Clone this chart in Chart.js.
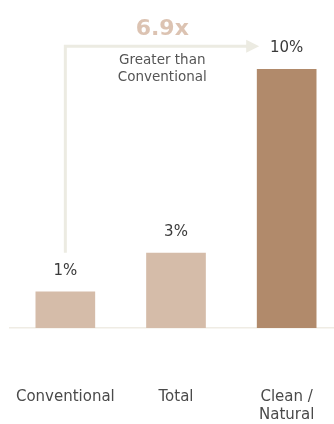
<!DOCTYPE html>
<html>
<head>
<meta charset="utf-8">
<script src="https://cdn.jsdelivr.net/npm/chart.js@4"></script>
<style>
  html, body { margin: 0; padding: 0; background: #fff; overflow: hidden; }
  #wrap { width: 342px; height: 424px; }
</style>
</head>
<body>
<div id="wrap"><canvas id="myChart"></canvas></div>
<script>
var categories = [["Conventional"], ["Total"], ["Clean /", "Natural"]];
var shareValues = [1.4, 2.9, 10];
var valueLabels = ["1%", "3%", "10%"];
var barColors = ["#d5bca9", "#d5bca9", "#b18a6b"];
var multipleText = "6.9x";
var noteLines = ["Greater than", "Conventional"];

var fontName = "'DejaVu Sans', sans-serif";

// value labels, category labels and the 6.9x arrow
var labelPlugin = {
    id: "labelPlugin",
    afterDatasetsDraw: function(chart) {
        var ctx = chart.ctx;
        var meta = chart.getDatasetMeta(0);
        var xScale = chart.scales.x;
        var labelYs = [];

        ctx.save();
        ctx.textAlign = "center";
        ctx.textBaseline = "middle";

        // category names under the axis
        ctx.font = "15px " + fontName;
        ctx.fillStyle = "#4a4a4a";
        categories.forEach(function(lines, i) {
            var x = xScale.getPixelForValue(i);
            lines.forEach(function(line, j) {
                ctx.fillText(line, x, chart.chartArea.bottom + 69 + j * 18);
            });
        });

        ctx.font = "15px " + fontName;
        ctx.fillStyle = "#3a3a3a";
        meta.data.forEach(function(bar, i) {
            var y = bar.y - 21;
            labelYs.push(y);
            ctx.fillText(valueLabels[i], bar.x, y);
        });

        // arrow from first bar label to the last bar
        var first = meta.data[0];
        var last = meta.data[meta.data.length - 1];
        var topY = labelYs[labelYs.length - 1] - 2;
        var startX = first.x;
        var tipX = last.x - last.width / 2 + 2;

        ctx.strokeStyle = "#ecebe2";
        ctx.fillStyle = "#ecebe2";
        ctx.lineWidth = 3;
        ctx.beginPath();
        ctx.moveTo(startX, labelYs[0] - 18);
        ctx.lineTo(startX, topY);
        ctx.lineTo(tipX - 10, topY);
        ctx.stroke();
        ctx.beginPath();
        ctx.moveTo(tipX, topY);
        ctx.lineTo(tipX - 13, topY - 6.5);
        ctx.lineTo(tipX - 13, topY + 6.5);
        ctx.closePath();
        ctx.fill();

        var midX = (startX + tipX) / 2;
        ctx.font = "bold 22px " + fontName;
        ctx.fillStyle = "#dcc3b2";
        ctx.fillText(multipleText, midX, topY - 17);

        ctx.font = "13.5px " + fontName;
        ctx.fillStyle = "#555555";
        ctx.fillText(noteLines[0], midX, topY + 14);
        ctx.fillText(noteLines[1], midX, topY + 31);
        ctx.restore();
    }
};

var config = {
    type: "bar",
    data: {
        labels: categories,
        datasets: [{
            data: shareValues,
            backgroundColor: barColors,
            borderWidth: 0,
            barThickness: 59
        }]
    },
    options: {
        responsive: true,
        maintainAspectRatio: false,
        animation: false,
        layout: {
            padding: { left: 10, right: 0, top: 2, bottom: 88 }
        },
        plugins: {
            legend: { display: false },
            tooltip: { enabled: false }
        },
        scales: {
            x: {
                ticks: { display: false },
                grid: { display: false },
                border: { display: true, color: "#efece4", width: 1.5 }
            },
            y: {
                display: false,
                min: 0,
                max: 12.6
            }
        }
    },
    plugins: [labelPlugin]
};

var ctx = document.getElementById("myChart");
window.myChart = new Chart(ctx, config);
</script>
</body>
</html>
